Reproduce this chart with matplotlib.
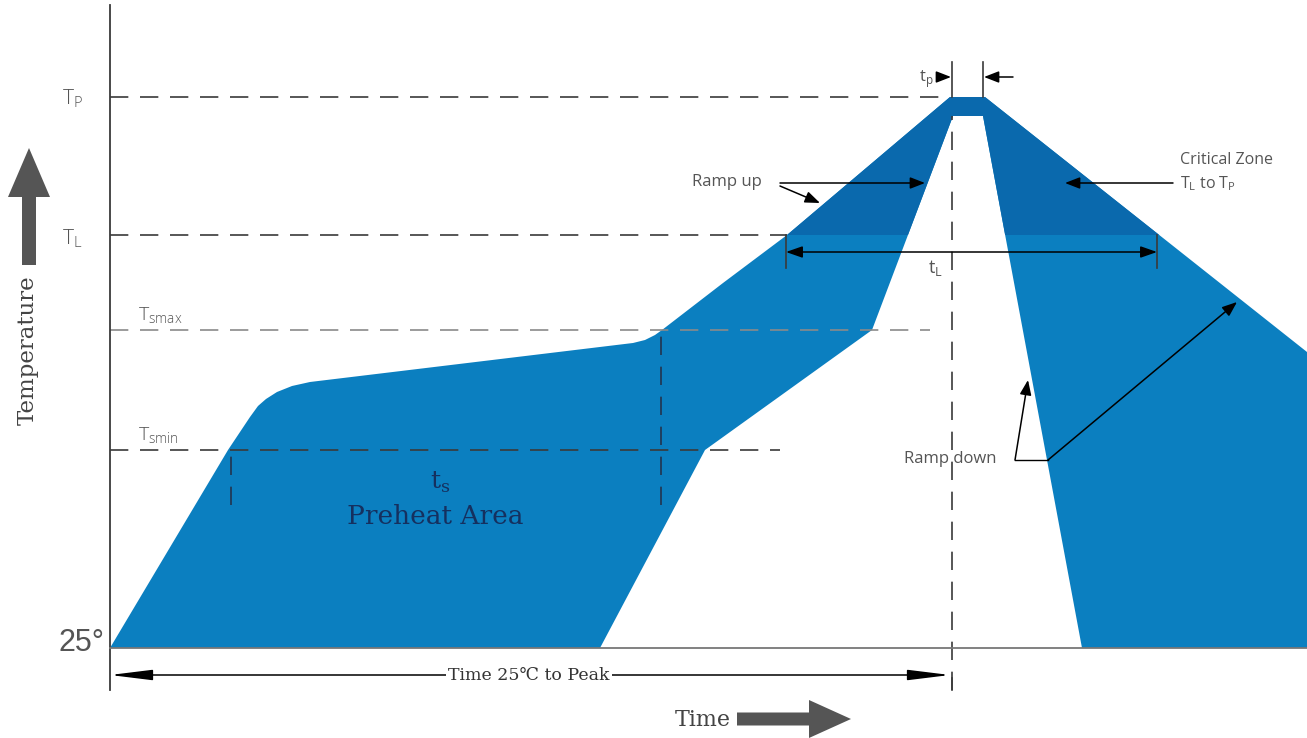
import matplotlib.pyplot as plt
from matplotlib.patches import Rectangle

# reflow profile drawn in "drawing units": time to the right, temperature up
levels = {'Tp': 641, 'TL': 503, 'Tsmax': 408, 'Tsmin': 288, '25': 90}

# outer (slowest / hottest) edge of the profile band, then the inner edge back down
outer_time = [110, 228, 250, 258, 266, 277, 292, 310, 633, 645, 655, 662, 723, 787, 950, 985, 1307, 1307]
outer_temp = [90, 288, 321, 332, 339, 346, 352, 356, 395, 398, 403, 408, 455, 503, 641, 641, 386, 90]
inner_time = [1082, 983, 953, 872, 705, 600]
inner_temp = [90, 622, 622, 408, 288, 90]

# where the horizontal reference lines stop
level_line_end = {'Tp': 950, 'TL': 787, 'Tsmax': 930, 'Tsmin': 780}
level_labels = {'Tp': r'T$_\mathregular{P}$', 'TL': r'T$_\mathregular{L}$',
                'Tsmax': r'T$_\mathregular{smax}$', 'Tsmin': r'T$_\mathregular{smin}$'}

t_start, t_peak_start, t_peak_end = 110, 952, 983
ts_start, ts_end = 231, 661
tl_start, tl_end = 786, 1157

blue = '#0b7fc0'
blue_dark = '#0a69ad'
line_c = '#3a3a3a'
grey_txt = '#555555'
serif = ['DejaVu Serif Condensed', 'DejaVu Serif', 'DejaVu Sans']
sans = ['Open Sans', 'DejaVu Sans']

fig = plt.figure(figsize=(13.07, 7.38), dpi=100)
ax = fig.add_axes([0, 0, 1, 1])
ax.set_xlim(0, 1307)
ax.set_ylim(0, 738)
ax.axis('off')

band_x = outer_time + inner_time
band_y = outer_temp + inner_temp
ax.fill(band_x, band_y, color=blue, lw=0, zorder=1)
# critical zone (above TL) is a darker blue
crit = ax.fill(band_x, band_y, color=blue_dark, lw=0, zorder=1.1)[0]
crit.set_clip_path(Rectangle((0, levels['TL']), 1307, 300, transform=ax.transData))

# axes lines
ax.plot([t_start, t_start], [48, 733], color=line_c, lw=1.3, zorder=3)
ax.plot([t_start, 1307], [levels['25'], levels['25']], color='#777777', lw=1.3, zorder=3)

# level reference lines
for key, end in level_line_end.items():
    c = '#8a8a8a' if key == 'Tsmax' else line_c
    ax.plot([t_start, end], [levels[key], levels[key]], color=c, lw=1.2,
            dashes=(11, 7), zorder=2)

# vertical dashed markers
ax.plot([t_peak_start, t_peak_start], [48, 622], color=line_c, lw=1.2, dashes=(11, 7), zorder=2)
ax.plot([ts_start, ts_start], [233, levels['Tsmin']], color='#23344f', lw=1.2, dashes=(11, 7), zorder=2)
ax.plot([ts_end, ts_end], [233, levels['Tsmax']], color='#23344f', lw=1.2, dashes=(11, 7), zorder=2)

# tp markers
for xx in (t_peak_start, t_peak_end):
    ax.plot([xx, xx], [levels['Tp'], 676], color=line_c, lw=1.2, zorder=3)
small_head = dict(arrowstyle='-|>,head_length=0.9,head_width=0.35', color='black',
                  lw=1.1, mutation_scale=10, shrinkA=0, shrinkB=0)
ax.annotate('', xy=(t_peak_start - 1, 661), xytext=(937, 661), arrowprops=small_head)
ax.annotate('', xy=(t_peak_end + 1, 661), xytext=(1013, 661), arrowprops=small_head)
ax.text(926, 659, r't$_\mathregular{p}$', fontsize=12, color=grey_txt, family=sans,
        ha='center', va='center')

# tL dimension
ax.plot([tl_start, tl_start], [470, levels['TL']], color=line_c, lw=1.2, zorder=3)
ax.plot([tl_end, tl_end], [470, levels['TL']], color=line_c, lw=1.2, zorder=3)
ax.annotate('', xy=(tl_start, 486), xytext=(tl_end, 486), zorder=4,
            arrowprops=dict(arrowstyle='<|-|>,head_length=1.0,head_width=0.35', color='black',
                            lw=1.1, mutation_scale=10, shrinkA=0, shrinkB=0))
ax.text(935, 470, r't$_\mathregular{L}$', fontsize=13, color=grey_txt, family=sans,
        ha='center', va='center')

# time 25C to peak dimension
ax.plot([t_peak_start, t_peak_start], [48, 60], color=line_c, lw=1.2)
ax.annotate('', xy=(t_start, 63), xytext=(t_peak_start - 2, 63),
            arrowprops=dict(arrowstyle='<|-|>,head_length=2.6,head_width=0.32', color='black',
                            lw=1.1, mutation_scale=10, shrinkA=0, shrinkB=0))
ax.text(529, 63, 'Time 25℃ to Peak', fontsize=12.5, family=serif, color='#333333',
        ha='center', va='center', bbox=dict(fc='white', ec='none', pad=1.5), zorder=5)

# level labels on the left
ax.text(72, levels['Tp'] - 2, level_labels['Tp'], fontsize=15, color=grey_txt, family=sans,
        ha='center', va='center', fontweight='light')
ax.text(72, levels['TL'] - 4, level_labels['TL'], fontsize=15, color=grey_txt, family=sans,
        ha='center', va='center', fontweight='light')
ax.text(138, levels['Tsmax'] + 4, level_labels['Tsmax'], fontsize=14, color=grey_txt,
        family=sans, ha='left', va='bottom', fontweight='light')
ax.text(138, levels['Tsmin'] + 4, level_labels['Tsmin'], fontsize=14, color=grey_txt,
        family=sans, ha='left', va='bottom', fontweight='light')
ax.text(81, 95, '25°', fontsize=22, color=grey_txt, family=['Liberation Sans Narrow', 'Liberation Sans'],
        ha='center', va='center')

# preheat area
ax.text(440, 256, r't$_\mathregular{s}$', fontsize=18, color='#15305f', family=serif,
        ha='center', va='center')
ax.text(435, 222, 'Preheat Area', fontsize=19, color='#15305f', family=serif,
        ha='center', va='center')

# ramp up
ax.text(727, 556, 'Ramp up', fontsize=12, color=grey_txt, family=sans, ha='center', va='center')
ax.annotate('', xy=(925, 555), xytext=(780, 555), arrowprops=small_head)
ax.annotate('', xy=(820, 535), xytext=(780, 552), arrowprops=small_head)

# critical zone
ax.text(1227, 578, 'Critical Zone', fontsize=11.5, color=grey_txt, family=sans,
        ha='center', va='center')
ax.text(1180, 554, r'T$_\mathregular{L}$ to T$_\mathregular{P}$', fontsize=11.5,
        color=grey_txt, family=sans, ha='left', va='center')
ax.annotate('', xy=(1065, 555), xytext=(1173, 555), arrowprops=small_head)

# ramp down
ax.text(950, 279, 'Ramp down', fontsize=12, color=grey_txt, family=sans, ha='center', va='center')
ax.plot([1015, 1048], [278, 278], color='black', lw=1.0)
ax.annotate('', xy=(1028, 358), xytext=(1015, 278), arrowprops=small_head)
ax.annotate('', xy=(1237, 436), xytext=(1048, 278), arrowprops=small_head)

# big axis arrows
ax.arrow(29, 473, 0, 117, width=14, head_width=42, head_length=49,
         length_includes_head=True, color='#555555', lw=0)
ax.text(28, 388, 'Temperature', rotation=90, fontsize=16.5, family=serif, color='#444444',
        ha='center', va='center')
ax.arrow(737, 19, 114, 0, width=13, head_width=38, head_length=42,
         length_includes_head=True, color='#555555', lw=0)
ax.text(703, 18, 'Time', fontsize=16, family=serif, color='#444444', ha='center', va='center')

fig.savefig('out.png', dpi=100)
